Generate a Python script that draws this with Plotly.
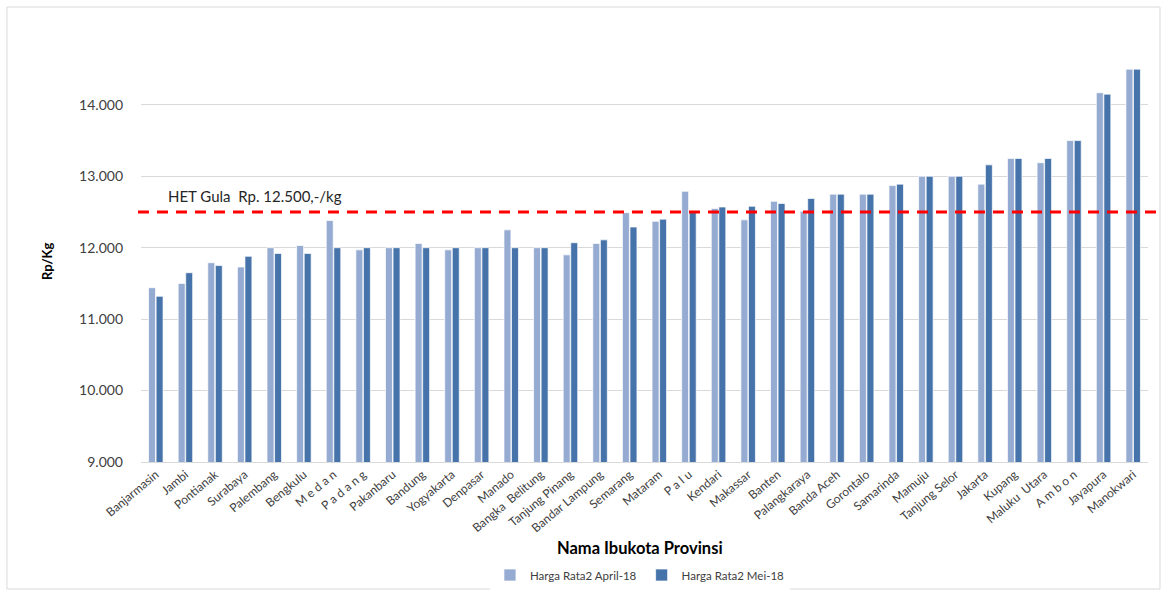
import plotly.graph_objects as go

# Average sugar price per provincial capital (Rp/Kg)
kota = [
    "Banjarmasin", "Jambi", "Pontianak", "Surabaya", "Palembang", "Bengkulu",
    "M e d a n", "P a d a n g", "Pakanbaru", "Bandung", "Yogyakarta", "Denpasar",
    "Manado", "Bangka  Belitung", "Tanjung Pinang", "Bandar Lampung", "Semarang",
    "Mataram", "P a l u", "Kendari", "Makassar", "Banten", "Palangkaraya",
    "Banda Aceh", "Gorontalo", "Samarinda", "Mamuju", "Tanjung Selor", "Jakarta",
    "Kupang", "Maluku  Utara", "A m b o n", "Jayapura", "Manokwari",
]
harga_april = [
    11440, 11500, 11790, 11730, 12000, 12030, 12380, 11970, 12000, 12060,
    11970, 12000, 12250, 12000, 11900, 12060, 12490, 12370, 12790, 12550,
    12390, 12650, 12510, 12750, 12750, 12870, 13000, 13000, 12890, 13250,
    13190, 13500, 14170, 14500,
]
harga_mei = [
    11320, 11650, 11750, 11880, 11920, 11920, 12000, 12000, 12000, 12000,
    12000, 12000, 12000, 12000, 12070, 12110, 12290, 12400, 12500, 12570,
    12580, 12620, 12690, 12750, 12750, 12890, 13000, 13000, 13160, 13250,
    13250, 13500, 14150, 14500,
]
het_gula = 12500
y_ticks = [9000, 10000, 11000, 12000, 13000, 14000]

FONT = "Lato"
TXT = "#404040"

fig = go.Figure()
fig.add_trace(go.Bar(
    x=kota, y=harga_april, name="Harga Rata2 April-18",
    marker=dict(color="#95ABD1", line=dict(color="rgba(255,255,255,0.7)", width=1)),
))
fig.add_trace(go.Bar(
    x=kota, y=harga_mei, name="Harga Rata2 Mei-18",
    marker=dict(color="#4673A9", line=dict(color="rgba(255,255,255,0.7)", width=1)),
))

# HET reference line
fig.add_shape(
    type="line", xref="paper", yref="y", x0=-0.003, x1=1.014, y0=het_gula, y1=het_gula,
    line=dict(color="#FF0000", width=3, dash="11px,8px"),
)
fig.add_annotation(
    text="HET Gula  Rp. 12.500,-/kg", xref="paper", yref="y", x=0.0248, y=het_gula,
    xanchor="left", yanchor="bottom", yshift=5, showarrow=False,
    font=dict(family=FONT, size=15, color="#262626"),
)

# outer chart border
fig.add_shape(
    type="rect", xref="paper", yref="paper", x0=-0.1331, x1=1.0119, y0=-0.3175, y1=1.1375,
    line=dict(color="#D9D9D9", width=1),
)

fig.add_annotation(
    text="<b>Rp/Kg</b>", xref="paper", yref="paper", x=-0.0933, y=0.5, textangle=-90,
    xanchor="center", yanchor="middle",
    showarrow=False, font=dict(family=FONT, size=13, color="#000000"),
)
fig.add_annotation(
    text="<b>Nama Ibukota Provinsi</b>", xref="paper", yref="paper", x=0.4955, y=-0.215,
    xanchor="center", yanchor="middle",
    showarrow=False, font=dict(family=FONT, size=16.5, color="#000000"),
)

fig.update_layout(
    width=1164, height=591,
    margin=dict(l=141, r=16, t=62, b=129, autoexpand=False),
    paper_bgcolor="white", plot_bgcolor="white",
    barmode="group", bargap=0.49, bargroupgap=0.08,
    separators=",.",
    font=dict(family=FONT, color=TXT),
    showlegend=True,
    legend=dict(
        orientation="h", x=0.4955, xanchor="center", y=-0.2825, yanchor="middle",
        font=dict(family=FONT, size=11.5, color=TXT), itemwidth=30,
    ),
    xaxis=dict(
        tickangle=-40, tickfont=dict(family=FONT, size=12, color=TXT),
        showline=True, linecolor="#D9D9D9", linewidth=1, ticks="",
        showgrid=False, automargin=False,
    ),
    yaxis=dict(
        range=[9000, 14600], tickvals=y_ticks, tickformat=",.0f",
        tickfont=dict(family=FONT, size=14, color=TXT),
        showgrid=True, gridcolor="#D9D9D9", gridwidth=1, zeroline=False,
        ticklabelstandoff=17, automargin=False,
    ),
)

fig.write_html("out.html")
